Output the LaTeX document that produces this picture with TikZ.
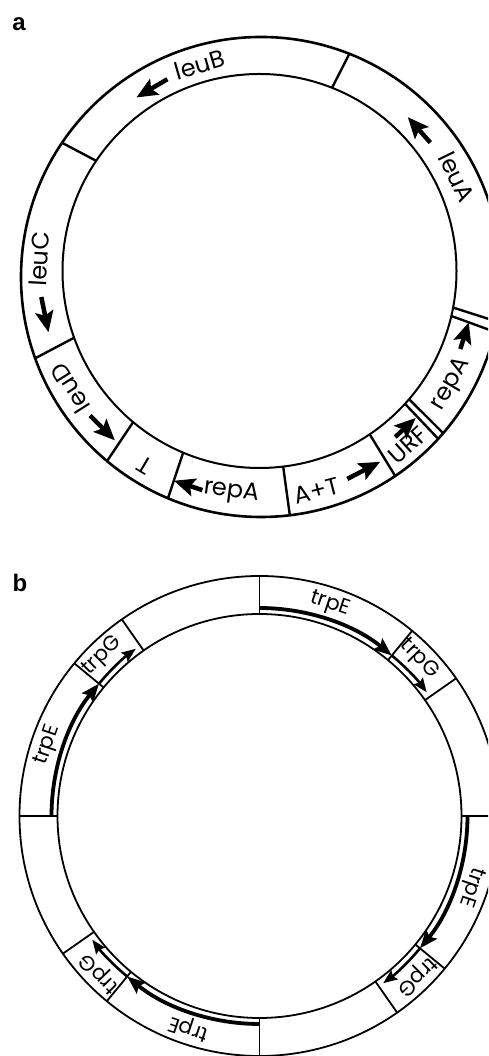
\documentclass[tikz,border=0pt]{standalone}
\usepackage{fontspec}
\setmainfont{Poppins}
\newfontfamily\labfont{Liberation Sans}
\usetikzlibrary{arrows.meta,calc}
\newcommand\ccwarrow[4]{\draw[fatarrow] ($(#1)+(#2:#3)+({#2-90}:#4)$) -- ($(#1)+(#2:#3)+({#2+90}:#4)$);}
\newcommand\cwarrow[4]{\draw[fatarrow] ($(#1)+(#2:#3)+({#2+90}:#4)$) -- ($(#1)+(#2:#3)+({#2-90}:#4)$);}
\begin{document}
\begin{tikzpicture}[x=1pt,y=1pt,
  outerline/.style={line width=2.6pt},
  innerline/.style={line width=2pt},
  divline/.style={line width=2.4pt},
  genetext/.style={font=\fontsize{24}{24}\selectfont, inner sep=0pt},
  trptext/.style={font=\fontsize{21}{21}\selectfont, inner sep=0pt},
  fatarrow/.style={line width=4.5pt, -{Stealth[length=21pt,width=18pt,inset=4pt]}},
  panellabel/.style={font=\labfont\bfseries\fontsize{24}{24}\selectfont, inner sep=0pt},
  ringb/.style={line width=1.8pt},
  trpEarrow/.style={line width=3.8pt, -{Stealth[length=18pt,width=14pt,inset=3pt]}},
  trpGarrow/.style={line width=2.6pt, -{Stealth[length=14pt,width=11pt,inset=2pt]}},
]
\useasboundingbox (0,0) rectangle (488,1056);
\clip (0,0) rectangle (488,1056);
\fill[white] (0,0) rectangle (488,1056);

% panel labels
\node[panellabel] (la) at (19,1032) {a};
\node[panellabel] (lb) at (20,473) {b};

% ---------- circle a ----------
\coordinate (ca) at (259.5,785);
\coordinate (cao) at (261,779);
\draw[innerline] (ca) circle[radius=197];
\draw[outerline] (cao) circle[radius=240];
\foreach \t in {68.4,146,199.8,230.1,247.2,276.9,304,-40.6,-42.4,-10.7,-13.2}
  \draw[divline] ($(ca)+(\t:197)$) -- ($(cao)+(\t:240)$);

\node[genetext, rotate=16.2]  (leuB)  at ($(ca)+(106.2:215)$) {leuB};
\node[genetext, rotate=-64]   (leuA)  at ($(ca)+(25.5:219)$) {leuA};
\node[genetext, rotate=86.9]  (leuC)  at ($(ca)+(176.9:221)$) {leuC};
\node[genetext, rotate=122.3] (leuD)  at ($(ca)+(211.8:223)$) {leuD};
\node[genetext, rotate=149.4] (T)     at ($(ca)+(239.4:226)$) {T};
\node[genetext, rotate=-7.6]  (repA1) at ($(ca)+(262.8:223)$) {repA};
\node[genetext, rotate=14.6]  (AT)    at ($(ca)+(284.6:227)$) {A+T};
\node[genetext, rotate=42]    (URF)   at ($(ca)+(310.5:229)$) {URF};
\node[genetext, rotate=59.4]  (repA2) at ($(ca)+(329.4:223)$) {repA};

\ccwarrow{ca}{120.5}{212}{18}
\ccwarrow{ca}{41.5}{213}{17}
\ccwarrow{ca}{191.5}{219}{18}
\ccwarrow{ca}{225}{222}{17.5}
\cwarrow{ca}{251.6}{226}{15}
\ccwarrow{ca}{297.6}{225}{18.5}
\ccwarrow{ca}{313}{214}{14}
\ccwarrow{ca}{342.5}{215}{14}

% ---------- circle b ----------
\coordinate (cb) at (259.5,240);
\draw[ringb] (cb) circle[radius=240];
\draw[ringb] (cb) circle[radius=202];
\foreach \Q in {0,90,180,270}{
  \pgfmathsetmacro\Qa{\Q-39.5}
  \pgfmathsetmacro\Qb{\Q-55}
  \pgfmathsetmacro\Qc{\Q-53.5}
  \pgfmathsetmacro\Qe{\Q-18.5}
  \pgfmathsetmacro\Qg{\Q-45.5}
  \pgfmathsetmacro\Re{\Q-108.5}
  \pgfmathsetmacro\Rg{\Q-135.5}
  \draw[ringb] ($(cb)+(\Q:202)$) -- ($(cb)+(\Q:240)$);
  \draw[ringb] ($(cb)+(\Qa:202)$) -- ($(cb)+(\Qa:240)$);
  \draw[ringb] ($(cb)+(\Qb:202)$) -- ($(cb)+(\Qb:240)$);
  \draw[trpEarrow] ($(cb)+(\Q:208)$) arc[start angle=\Q, end angle=\Qa, radius=208];
  \draw[trpGarrow] ($(cb)+(\Qa:208)$) arc[start angle=\Qa, end angle=\Qc, radius=208];
  \node[trptext, rotate=\Re] (trpE\Q) at ($(cb)+(\Qe:223)$) {trpE};
  \node[trptext, rotate=\Rg] (trpG\Q) at ($(cb)+(\Qg:224)$) {trpG};
}
\end{tikzpicture}
\end{document}
